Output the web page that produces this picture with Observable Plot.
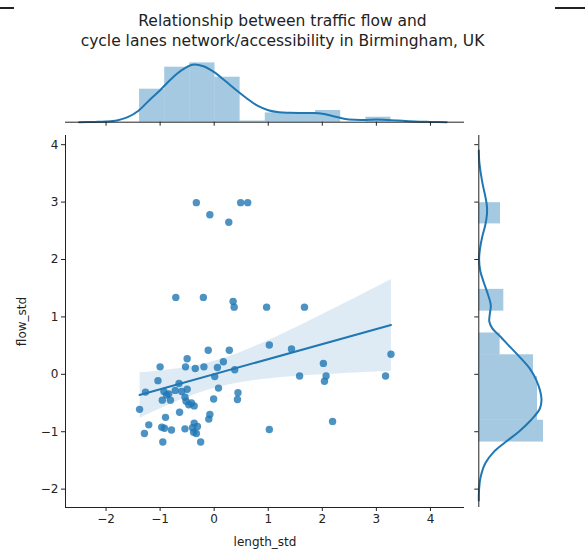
<!DOCTYPE html>
<html><head><meta charset="utf-8">
<script src="https://cdn.jsdelivr.net/npm/d3@7"></script>
<script src="https://cdn.jsdelivr.net/npm/@observablehq/plot@0.6"></script>
<style>
body{margin:0;background:#fff;}
#fig{position:relative;width:585px;height:552px;overflow:hidden;font-family:"DejaVu Sans",sans-serif;background:#fff;}
#fig svg{position:absolute;left:0;top:0;}
.title{position:absolute;left:-10px;width:585px;text-align:center;font-size:15.5px;color:#222;line-height:20px;top:11px;}
.rule{position:absolute;top:7px;height:2px;background:#222;}
</style></head><body><div id="fig">
<div class="rule" style="left:0;width:14px"></div><div class="rule" style="left:555px;width:30px"></div>
<div class="title">Relationship between traffic flow and<br>cycle lanes network/accessibility in Birmingham, UK</div>
</div>
<script>
// scatter data
const lengthStd = [-0.33,0.49,0.62,-0.08,0.27,
 -0.71,-0.20,0.35,0.37,0.97,1.67,
 1.02,1.43,3.27,-0.11,0.28,
 -0.50,0.17,-1.00,-0.53,-0.35,-0.19,0.06,0.38,2.02,
 -1.04,-0.65,0.01,1.58,2.07,2.04,3.17,
 -1.27,-0.93,-0.84,-0.72,-0.50,0.08,0.44,
 -0.96,-0.81,-0.54,-0.52,-0.01,0.43,-0.47,-0.37,
 -1.38,-0.64,-0.90,-0.08,-0.10,
 -1.21,-0.37,-0.31,2.19,-1.29,-0.97,-0.92,-0.79,-0.54,-0.38,-0.33,1.02,-0.95,-0.25,
 -0.88,-0.42,-0.60,-0.40];
const flowStd = [2.99,2.99,2.99,2.78,2.65,
 1.34,1.34,1.27,1.17,1.17,1.17,
 0.51,0.44,0.35,0.42,0.42,
 0.27,0.22,0.13,0.13,0.10,0.13,0.12,0.08,0.19,
 -0.11,-0.16,-0.04,-0.03,-0.03,-0.12,-0.03,
 -0.31,-0.30,-0.34,-0.28,-0.26,-0.24,-0.32,
 -0.45,-0.45,-0.40,-0.47,-0.43,-0.44,-0.53,-0.55,
 -0.61,-0.66,-0.75,-0.70,-0.78,
 -0.88,-0.85,-0.91,-0.82,-1.03,-0.92,-0.94,-0.97,-0.95,-1.01,-1.03,-0.96,-1.18,-1.18,
 -0.36,-0.50,-0.30,-0.93];
const xTicks = [-2,-1,0,1,2,3,4];
const yTicks = [-2,-1,0,1,2,3,4];
// top marginal (length_std) histogram + kde, density
const topBinEdges = [-1.38,-0.915,-0.45,0.015,0.48,0.945,1.41,1.875,2.34,2.805,3.27];
const topBinDensity = [0.33,0.55,0.593,0.45,0.012,0.093,0.093,0.117,0,0.05];
const topKdeX = [-2.5,-2.2,-2.0,-1.8,-1.6,-1.4,-1.2,-1.0,-0.8,-0.6,-0.4,-0.2,0,0.2,0.4,0.6,0.8,1.0,1.2,1.4,1.6,1.8,2.0,2.2,2.4,2.6,2.8,3.0,3.2,3.4,3.6,3.8,4.0,4.3];
const topKdeDensity = [0,0.003,0.007,0.018,0.05,0.115,0.22,0.32,0.43,0.52,0.575,0.56,0.50,0.415,0.325,0.24,0.165,0.12,0.10,0.095,0.093,0.092,0.085,0.06,0.035,0.024,0.023,0.026,0.023,0.017,0.01,0.005,0.003,0];
// right marginal (flow_std)
const rightBinEdges = [-1.18,-0.80,-0.42,-0.04,0.34,0.72,1.10,1.48,1.86,2.24,2.62,2.99];
const rightBinDensity = [0.647,0.587,0.587,0.547,0.213,0,0.25,0,0,0,0.217];
const rightKdeY = [3.9,3.7,3.5,3.3,3.1,2.95,2.8,2.6,2.4,2.2,2.0,1.8,1.6,1.4,1.2,1.05,0.92,0.8,0.65,0.5,0.3,0.1,-0.1,-0.3,-0.45,-0.6,-0.8,-1.0,-1.15,-1.35,-1.55,-1.8,-2.0,-2.2];
const rightKdeDensity = [0,0.005,0.02,0.04,0.065,0.08,0.082,0.065,0.035,0.013,0.003,0.015,0.05,0.09,0.12,0.11,0.105,0.135,0.22,0.30,0.41,0.51,0.575,0.615,0.627,0.61,0.52,0.40,0.29,0.15,0.065,0.017,0.003,0];

const W = 585, H = 552;
const blue = "#1f77b4";
const xDomain = [-2.75, 4.63], yDomain = [-2.32, 4.16];
const mL = 65, mR = W - 464, mT = 135, mB = H - 507;
const fmt = d => d < 0 ? "\u2212" + Math.abs(d) : String(d);
const style = {fontFamily: "DejaVu Sans, sans-serif", fontSize: "12px", color: "#222", background: "transparent", overflow: "visible"};

const points = lengthStd.map((x, i) => ({x, y: flowStd[i]}));
const mainPlot = Plot.plot({
  width: W, height: H, marginLeft: mL, marginRight: mR, marginTop: mT, marginBottom: mB,
  style,
  x: {domain: xDomain},
  y: {domain: yDomain},
  marks: [
    Plot.axisX({ticks: xTicks, tickSize: 4, tickPadding: 3, tickFormat: fmt, label: "length_std", labelAnchor: "center", labelArrow: "none", labelOffset: 38}),
    Plot.axisY({ticks: yTicks, tickSize: 4, tickPadding: 3, tickFormat: fmt, label: "flow_std", labelAnchor: "center", labelArrow: "none", labelOffset: 48}),
    Plot.ruleX([xDomain[0]], {stroke: "#222"}),
    Plot.ruleY([yDomain[0]], {stroke: "#222"}),
    Plot.dot(points, {x: "x", y: "y", r: 3.7, fill: blue, fillOpacity: 0.8, stroke: "none"}),
    Plot.linearRegressionY(points, {x: "x", y: "y", stroke: blue, fill: blue, fillOpacity: 0.15, strokeWidth: 2})
  ]
});

const topBins = topBinDensity.map((d, i) => ({x1: topBinEdges[i], x2: topBinEdges[i + 1], d}));
const topKde = topKdeX.map((x, i) => ({x, d: topKdeDensity[i]}));
const topH = 135, topBase = 121.7;
const topPlot = Plot.plot({
  width: W, height: topH, marginLeft: mL, marginRight: mR, marginTop: topBase - 70, marginBottom: topH - topBase,
  style,
  x: {domain: xDomain},
  y: {domain: [0, 0.7], axis: null},
  marks: [
    Plot.rectY(topBins, {x1: "x1", x2: "x2", y: "d", fill: blue, fillOpacity: 0.4}),
    Plot.line(topKde, {x: "x", y: "d", stroke: blue, strokeWidth: 2, curve: "catmull-rom"}),
    Plot.axisX({ticks: xTicks, tickSize: 4, tickFormat: () => "", label: null}),
    Plot.ruleY([0], {stroke: "#222"})
  ]
});

const rightBins = rightBinDensity.map((d, i) => ({y1: rightBinEdges[i], y2: rightBinEdges[i + 1], d}));
const rightKde = rightKdeY.map((y, i) => ({y, d: rightKdeDensity[i]}));
const rL = 478.3;
const rightPlot = Plot.plot({
  width: W, height: H, marginLeft: rL, marginRight: W - rL - 70, marginTop: mT, marginBottom: mB,
  style,
  x: {domain: [0, 0.7], axis: null},
  y: {domain: yDomain},
  marks: [
    Plot.rectX(rightBins, {y1: "y1", y2: "y2", x: "d", fill: blue, fillOpacity: 0.4}),
    Plot.line(rightKde, {x: "d", y: "y", stroke: blue, strokeWidth: 2, curve: "catmull-rom"}),
    Plot.axisY({ticks: yTicks, tickSize: 4, tickFormat: () => "", label: null}),
    Plot.ruleX([0], {stroke: "#222"})
  ]
});

const fig = document.getElementById("fig");
fig.appendChild(mainPlot);
fig.appendChild(topPlot);
fig.appendChild(rightPlot);
</script></body></html>
